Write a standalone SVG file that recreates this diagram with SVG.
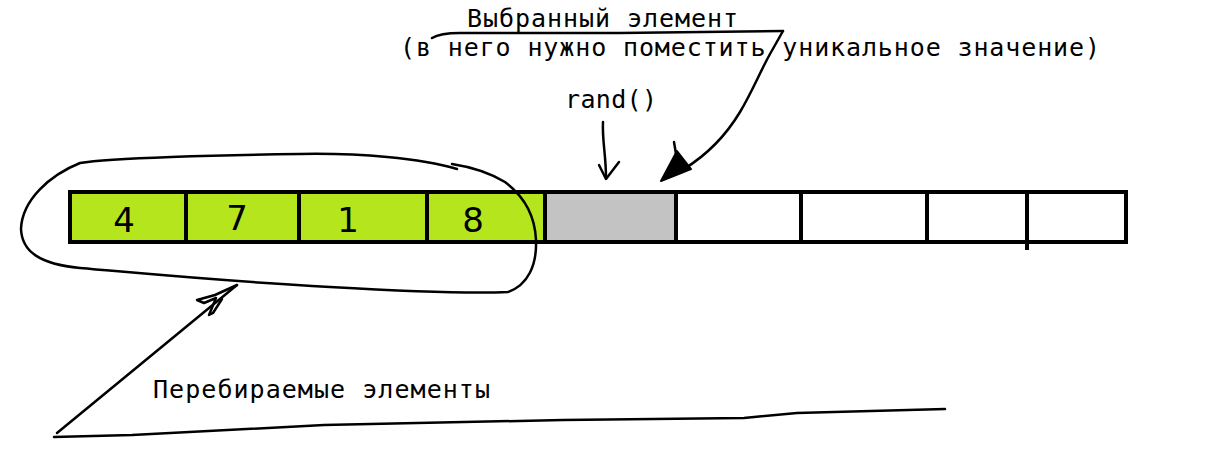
<svg xmlns="http://www.w3.org/2000/svg" width="1210" height="470" viewBox="0 0 1210 470">
<style>
.t{font-family:"DejaVu Sans Mono","Liberation Mono",monospace;font-size:25px;fill:#000}
.d{font-family:"DejaVu Sans","Liberation Sans",sans-serif;font-size:34px;fill:#000}
.h{fill:none;stroke:#000;stroke-width:2.5;stroke-linecap:round;stroke-linejoin:round}
.cell{stroke:#000;stroke-width:4}
</style>
<rect width="1210" height="470" fill="#fff"/>
<g id="array">
  <rect x="70" y="192" width="475" height="50" fill="#b5e61d"/>
  <rect x="545" y="192" width="131" height="50" fill="#c3c3c3"/>
  <rect x="70" y="192" width="1056" height="50" fill="none" class="cell"/>
  <g class="cell">
    <line x1="186" y1="192" x2="186" y2="242"/>
    <line x1="299" y1="192" x2="299" y2="242"/>
    <line x1="427" y1="192" x2="427" y2="242"/>
    <line x1="545" y1="192" x2="545" y2="242"/>
    <line x1="676" y1="192" x2="676" y2="242"/>
    <line x1="801" y1="192" x2="801" y2="242"/>
    <line x1="927" y1="192" x2="927" y2="242"/>
    <line x1="1027" y1="192" x2="1027" y2="250"/>
  </g>
  <text class="d" x="124" y="232" text-anchor="middle">4</text>
  <text class="d" x="237" y="230" text-anchor="middle">7</text>
  <text class="d" x="348" y="232" text-anchor="middle">1</text>
  <text class="d" x="473" y="232" text-anchor="middle">8</text>
</g>
<g id="labels">
  <text class="t" x="467" y="27" textLength="271" lengthAdjust="spacing">Выбранный элемент</text>
  <text class="t" x="400" y="56" textLength="700" lengthAdjust="spacing">(в него нужно поместить уникальное значение)</text>
  <text class="t" x="565" y="108" textLength="92" lengthAdjust="spacing">rand()</text>
  <text class="t" x="153" y="398" textLength="337" lengthAdjust="spacing">Перебираемые элементы</text>
</g>
<g id="connectors">
  <path class="h" d="M457 169 C420 158 360 153 300 154 C220 155 110 158 80 163 C50 175 22 200 21 229 C22 252 40 264 80 268 C150 274 220 281 330 287 C400 291 470 294 508 292 C528 285 537 265 536 240 C535 215 525 197 505 182 C485 170 465 166 452 164"/>
  <path class="h" d="M432 38 Q440 33 460 33 L620 33 L783 31"/>
  <path class="h" d="M783 31 L770 54 C760 72 752 92 740 112 C725 137 705 156 684 169"/>
  <path d="M661 181 L691 169 L677 151 Z" fill="#000" stroke="#000" stroke-width="2" stroke-linejoin="round"/>
  <path class="h" d="M674 142 L677 160"/>
  <path class="h" d="M603 122 C602 140 606 155 606 178"/>
  <path class="h" d="M599 165 L606 179 L619 162"/>
  <path class="h" d="M57 433 L237 285"/>
  <path class="h" d="M237 285 L215 295 L197 300 L204 303 L216 298 L209 315 L213 313 L222 299"/>
  <path class="h" d="M54 437 L132 435 L324 425 L563 420 L744 418 L797 413 L945 409"/>
</g>
</svg>
